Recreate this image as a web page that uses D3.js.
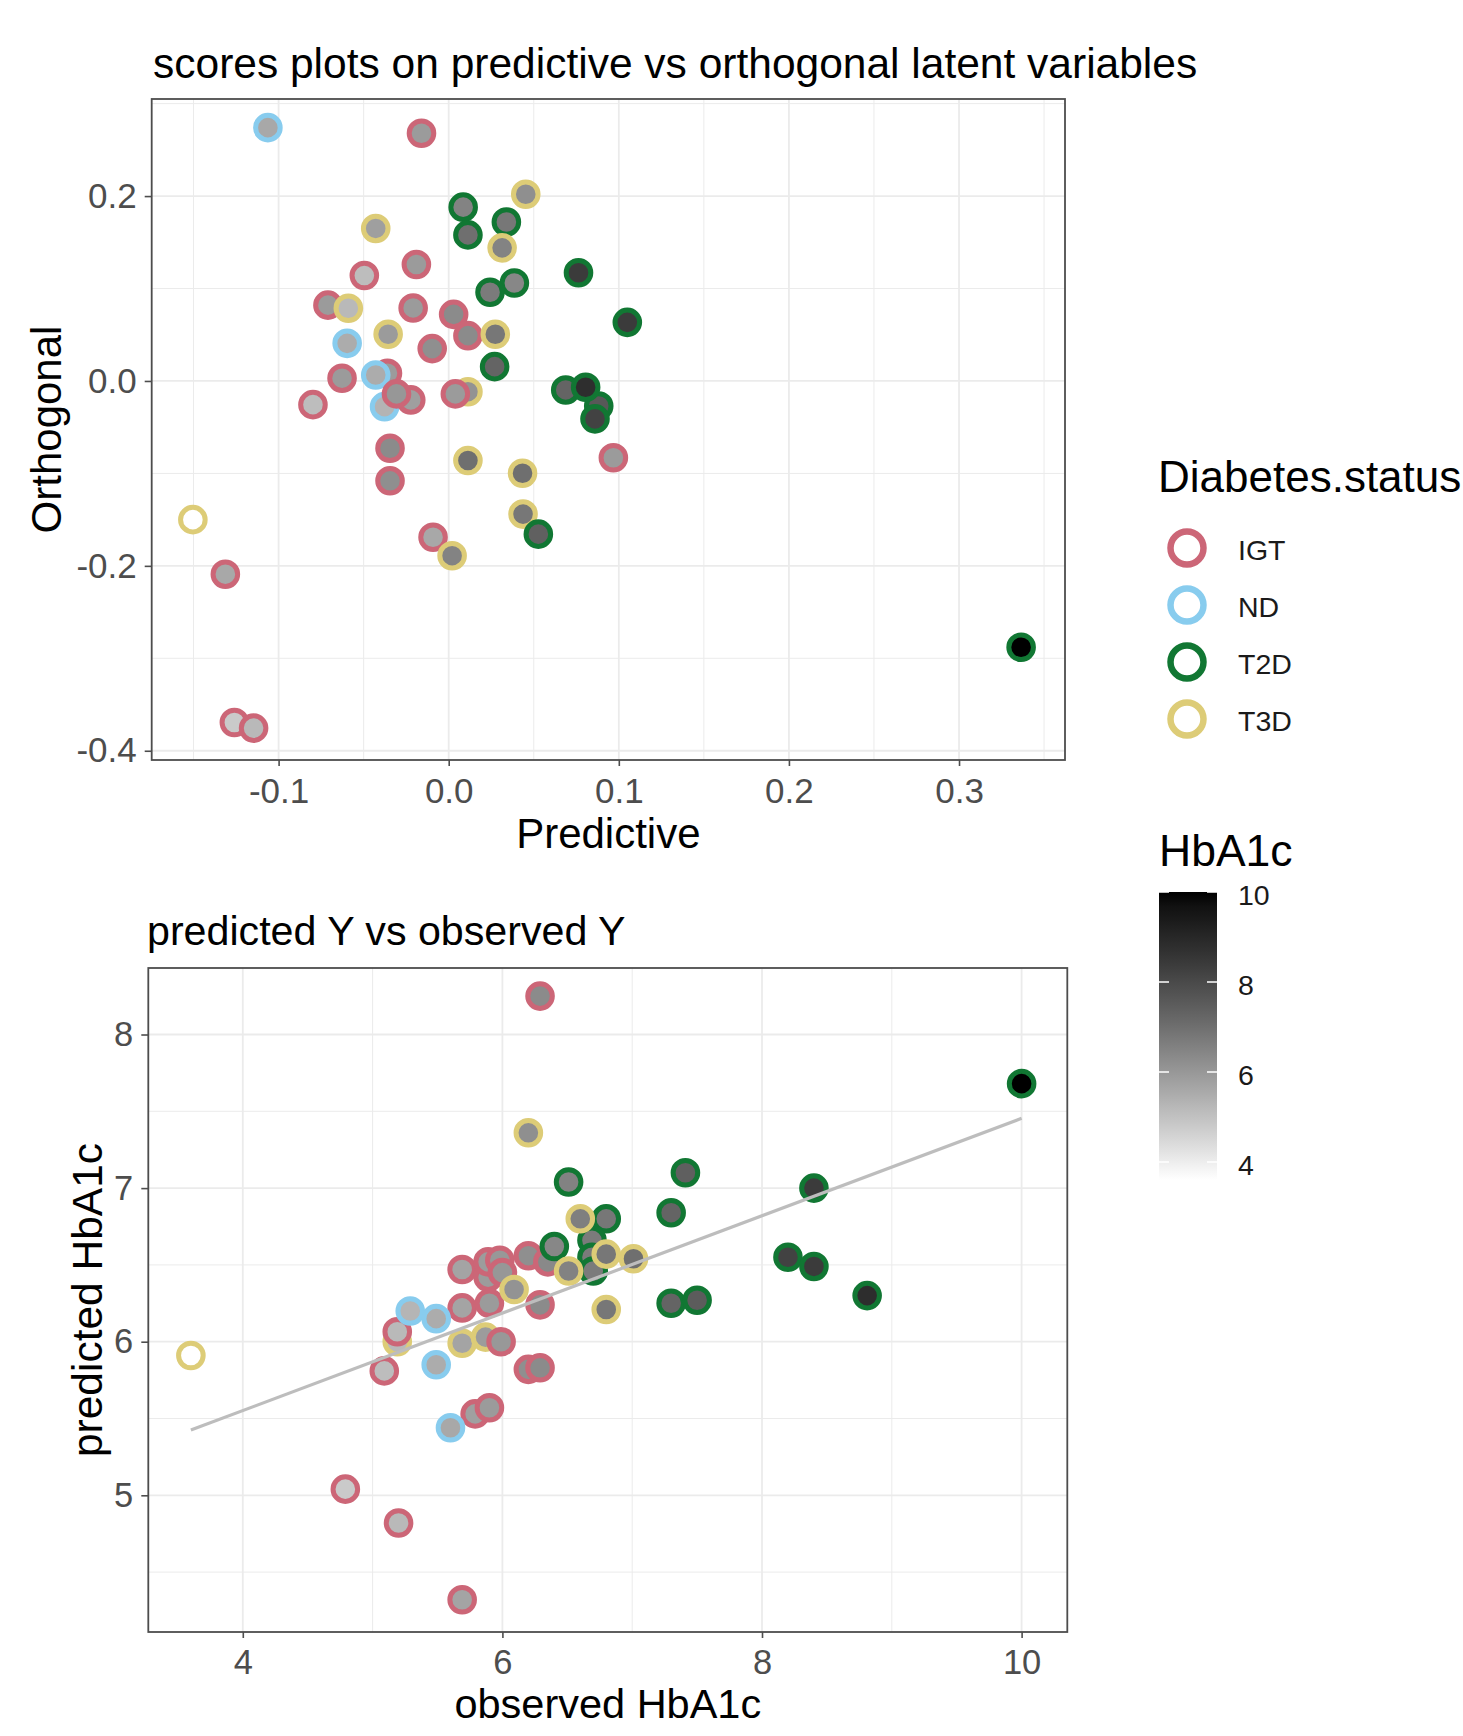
<!DOCTYPE html>
<html><head><meta charset="utf-8">
<script src="https://cdn.jsdelivr.net/npm/d3@7"></script>
<style>
body{margin:0;background:#fff}
svg text{font-family:"Liberation Sans",Arial,sans-serif}
</style>
</head><body>
<svg id="chart" width="1463" height="1736"></svg>
<script>
// ---------- shared ----------
const statusLevels = ["IGT","ND","T2D","T3D"];
const statusColors = ["#CC6677","#88CCEE","#117733","#DDCC77"];
const hba1cRange = [3.6, 10];
const hba1cTicks = [4, 6, 8, 10];

// ---------- top panel: scores ----------
const scoreStatus = ["ND","IGT","T3D","T2D","T2D","T2D","T3D","T3D","IGT","IGT","T2D","T2D","IGT","T3D","IGT","IGT","IGT","T3D","T3D","ND","IGT","T2D","IGT","ND","IGT","IGT","ND","IGT","IGT","T3D","IGT","IGT","T3D","IGT","T3D","T2D","T2D","T2D","T2D","T2D","T2D","IGT","T3D","T2D","T3D","IGT","IGT","T3D","IGT","IGT","T2D"];
const scorePredictive = [-0.1063,-0.016,0.0453,0.0085,0.0339,0.0113,0.0314,-0.0429,-0.019,-0.0496,0.0386,0.0243,-0.071,-0.059,-0.0209,0.0029,0.0113,0.0274,-0.0356,-0.0597,-0.0097,0.027,-0.036,-0.0429,-0.0627,-0.0798,-0.0377,-0.0223,-0.0307,0.0113,0.0039,-0.0345,0.0113,-0.0345,0.0434,0.0763,0.105,0.0688,0.0882,0.0805,0.086,0.0968,0.0437,0.0527,-0.1504,-0.1313,-0.0092,0.002,-0.126,-0.1147,0.3365];
const scoreOrthogonal = [0.274,0.268,0.202,0.188,0.172,0.158,0.144,0.165,0.126,0.114,0.106,0.096,0.082,0.0786,0.079,0.072,0.049,0.0505,0.0505,0.0407,0.035,0.0155,0.0083,0.0065,0.003,-0.0256,-0.0278,-0.0205,-0.014,-0.0116,-0.014,-0.0728,-0.086,-0.108,-0.0998,0.117,0.0634,-0.0097,-0.027,-0.0068,-0.041,-0.083,-0.144,-0.1657,-0.150,-0.209,-0.169,-0.189,-0.3694,-0.3755,-0.288];
const scoreHbA1c = [5.6,5.9,6.2,6.5,6.8,7.0,6.5,5.8,5.9,5.1,6.4,6.7,5.9,5.2,5.9,6.3,6.3,6.8,5.9,5.5,6.2,7.3,5.9,5.5,5.9,5.1,5.3,5.8,6.0,6.1,5.9,6.3,7.0,6.2,7.0,8.4,8.4,7.3,7.6,8.8,8.2,5.9,6.8,7.4,3.6,5.6,5.6,6.5,4.8,5.2,10.0];
const topXTicks = [-0.1, 0.0, 0.1, 0.2, 0.3];
const topXMinor = [-0.15, -0.05, 0.05, 0.15, 0.25, 0.35];
const topYTicks = [-0.4, -0.2, 0.0, 0.2];
const topYMinor = [-0.3, -0.1, 0.1, 0.3];
const topXDomain = [-0.1746, 0.3623];
const topYDomain = [-0.41, 0.305];

// ---------- bottom panel: predicted vs observed ----------
const predStatus = ["T3D",
  "IGT","IGT","IGT","IGT","IGT","IGT","IGT","IGT","IGT","IGT","IGT","IGT",
  "T3D","T3D",
  "IGT","IGT","IGT","IGT","IGT","IGT","IGT","IGT","IGT",
  "ND","ND","ND","ND",
  "T3D",
  "T2D","T2D","T2D","T2D","T2D","T2D","T2D","T2D","T2D","T2D","T2D","T2D","T2D","T2D","T2D",
  "T3D","T3D","T3D","T3D","T3D","T3D","T3D"];
const predObserved = [5.19,
  6.29,5.09,5.19,5.69,5.89,5.89,5.98,6.2,6.35,6.0,5.69,5.90,
  5.69,5.87,
  6.29,5.99,6.2,6.29,5.79,5.90,4.79,5.20,5.69,
  5.29,5.49,5.49,5.60,
  3.6,
  6.51,7.41,7.30,6.80,6.40,6.69,6.69,6.70,7.30,7.50,8.20,8.40,8.40,8.81,10.0,
  6.2,6.09,6.60,6.80,7.01,6.51,6.80];
const predPredicted = [6.0,
  8.25,5.81,6.065,6.47,6.42,6.52,6.53,6.56,6.52,6.45,6.22,6.25,
  5.99,6.03,
  6.24,6.0,5.82,5.83,5.53,5.57,5.04,4.82,4.32,
  6.20,6.15,5.85,5.44,
  5.91,
  7.04,7.10,6.84,6.80,6.62,6.66,6.55,6.46,6.25,6.27,6.55,6.49,7.0,6.30,7.68,
  7.36,6.34,6.80,6.57,6.54,6.46,6.21];
const fitLineX = [3.6, 10.0];
const fitLineY = [5.425, 7.454];
const botXTicks = [4, 6, 8, 10];
const botXMinor = [5, 7, 9];
const botYTicks = [5, 6, 7, 8];
const botYMinor = [4.5, 5.5, 6.5, 7.5];
const botXDomain = [3.272, 10.352];
const botYDomain = [4.11, 8.433];
</script>
<script>
const svg = d3.select("#chart");
svg.append("rect").attr("width",1463).attr("height",1736).attr("fill","#fff");

const colorScale = d3.scaleOrdinal().domain(statusLevels).range(statusColors);
const fillScale = d3.scaleLinear().domain(hba1cRange).range(["#ffffff","#000000"]).interpolate(d3.interpolateLab);
const fmt1 = d => d.toFixed(1);
const GRID = "#ebebeb", BORDER = "#4d4d4d", TICKTXT = "#4d4d4d";

function panel(opts) {
  const {x, y, xTicks, xMinor, yTicks, yMinor, xFmt, yFmt, tickSize} = opts;
  const g = svg.append("g");
  const [x0, x1] = x.range(), [y0, y1] = y.range();
  g.selectAll(".vmin").data(xMinor).join("line")
    .attr("x1", d => x(d)).attr("x2", d => x(d)).attr("y1", y0).attr("y2", y1)
    .attr("stroke", GRID).attr("stroke-width", 1);
  g.selectAll(".hmin").data(yMinor).join("line")
    .attr("y1", d => y(d)).attr("y2", d => y(d)).attr("x1", x0).attr("x2", x1)
    .attr("stroke", GRID).attr("stroke-width", 1);
  g.selectAll(".vmaj").data(xTicks).join("line")
    .attr("x1", d => x(d)).attr("x2", d => x(d)).attr("y1", y0).attr("y2", y1)
    .attr("stroke", GRID).attr("stroke-width", 1.8);
  g.selectAll(".hmaj").data(yTicks).join("line")
    .attr("y1", d => y(d)).attr("y2", d => y(d)).attr("x1", x0).attr("x2", x1)
    .attr("stroke", GRID).attr("stroke-width", 1.8);
  const xa = svg.append("g").attr("transform", `translate(0,${y0})`)
    .call(d3.axisBottom(x).tickValues(xTicks).tickFormat(xFmt).tickSize(6).tickPadding(12));
  const ya = svg.append("g").attr("transform", `translate(${x0},0)`)
    .call(d3.axisLeft(y).tickValues(yTicks).tickFormat(yFmt).tickSize(7).tickPadding(8));
  [xa, ya].forEach(a => {
    a.select(".domain").remove();
    a.selectAll(".tick line").attr("stroke", BORDER).attr("stroke-width", 1.6);
    a.selectAll(".tick text").attr("fill", TICKTXT).style("font-size", tickSize + "px")
      .style("font-family", '"Liberation Sans",Arial,sans-serif');
  });
  return g;
}

function border(x, y) {
  const [x0, x1] = x.range(), [y0, y1] = y.range();
  svg.append("rect").attr("x", x0).attr("y", y1).attr("width", x1 - x0).attr("height", y0 - y1)
    .attr("fill", "none").attr("stroke", BORDER).attr("stroke-width", 1.8);
}

function drawPoints(g, xs, ys, st, fillv, x, y) {
  g.selectAll(".pt").data(d3.range(xs.length)).join("circle")
    .attr("cx", i => x(xs[i])).attr("cy", i => y(ys[i])).attr("r", 12.3)
    .attr("fill", i => fillScale(fillv[i]))
    .attr("stroke", i => colorScale(st[i])).attr("stroke-width", 5);
}

// ---------- top panel ----------
const xTop = d3.scaleLinear().domain(topXDomain).range([151.7, 1065]);
const yTop = d3.scaleLinear().domain(topYDomain).range([760, 99]);
const gTop = panel({x: xTop, y: yTop, xTicks: topXTicks, xMinor: topXMinor, yTicks: topYTicks, yMinor: topYMinor,
  xFmt: fmt1, yFmt: fmt1, tickSize: 35});
drawPoints(gTop, scorePredictive, scoreOrthogonal, scoreStatus, scoreHbA1c, xTop, yTop);
border(xTop, yTop);
svg.append("text").attr("x", 153).attr("y", 78).style("font-size", "42.5px").attr("fill", "#000")
  .text("scores plots on predictive vs orthogonal latent variables");
svg.append("text").attr("x", (151.7 + 1065) / 2).attr("y", 848).attr("text-anchor", "middle")
  .style("font-size", "42px").text("Predictive");
svg.append("text").attr("transform", `translate(61,${(99 + 760) / 2}) rotate(-90)`).attr("text-anchor", "middle")
  .style("font-size", "42px").text("Orthogonal");

// ---------- bottom panel ----------
const xBot = d3.scaleLinear().domain(botXDomain).range([148.3, 1067.3]);
const yBot = d3.scaleLinear().domain(botYDomain).range([1632, 968]);
const gBot = panel({x: xBot, y: yBot, xTicks: botXTicks, xMinor: botXMinor, yTicks: botYTicks, yMinor: botYMinor,
  xFmt: d3.format("d"), yFmt: d3.format("d"), tickSize: 34.5});
drawPoints(gBot, predObserved, predPredicted, predStatus, predObserved, xBot, yBot);
gBot.append("path")
  .datum(d3.range(fitLineX.length))
  .attr("d", d3.line().x(i => xBot(fitLineX[i])).y(i => yBot(fitLineY[i])))
  .attr("stroke", "#bdbdbd").attr("stroke-width", 3.2).attr("fill", "none");
border(xBot, yBot);
svg.append("text").attr("x", 147).attr("y", 945).style("font-size", "41.2px").text("predicted Y vs observed Y");
svg.append("text").attr("x", (148.3 + 1067.3) / 2).attr("y", 1718).attr("text-anchor", "middle")
  .style("font-size", "41.5px").text("observed HbA1c");
svg.append("text").attr("transform", `translate(102,${(968 + 1632) / 2}) rotate(-90)`).attr("text-anchor", "middle")
  .style("font-size", "42.5px").text("predicted HbA1c");

// ---------- legend: Diabetes.status ----------
const leg = svg.append("g");
leg.append("text").attr("x", 1158).attr("y", 492).style("font-size", "44px").text("Diabetes.status");
const legY = d3.scalePoint().domain(statusLevels).range([548, 719]);
leg.selectAll(".key").data(statusLevels).join("circle")
  .attr("cx", 1187).attr("cy", d => legY(d)).attr("r", 16.5)
  .attr("fill", "none").attr("stroke", d => colorScale(d)).attr("stroke-width", 6.5);
leg.selectAll(".lab").data(statusLevels).join("text")
  .attr("x", 1238).attr("y", d => legY(d) + 12).style("font-size", "28.5px").attr("fill", "#1a1a1a").text(d => d);

// ---------- colourbar: HbA1c ----------
svg.append("text").attr("x", 1159).attr("y", 866).style("font-size", "44.5px").text("HbA1c");
const cbY = d3.scaleLinear().domain(hba1cRange).range([1180, 892]);
const defs = svg.append("defs");
const grad = defs.append("linearGradient").attr("id", "cbgrad").attr("x1", 0).attr("x2", 0).attr("y1", 1).attr("y2", 0);
const stops = d3.range(0, 1.0001, 0.05);
grad.selectAll("stop").data(stops).join("stop")
  .attr("offset", d => d).attr("stop-color", d => fillScale(hba1cRange[0] + d * (hba1cRange[1] - hba1cRange[0])));
svg.append("rect").attr("x", 1159).attr("y", cbY(hba1cRange[1])).attr("width", 58)
  .attr("height", cbY(hba1cRange[0]) - cbY(hba1cRange[1])).attr("fill", "url(#cbgrad)");
const cb = svg.append("g");
cb.selectAll(".tl").data(hba1cTicks).join("line")
  .attr("x1", 1159).attr("x2", 1169).attr("y1", d => cbY(d)).attr("y2", d => cbY(d))
  .attr("stroke", "#fff").attr("stroke-width", 1.5);
cb.selectAll(".tr").data(hba1cTicks).join("line")
  .attr("x1", 1207).attr("x2", 1217).attr("y1", d => cbY(d)).attr("y2", d => cbY(d))
  .attr("stroke", "#fff").attr("stroke-width", 1.5);
cb.selectAll(".tt").data(hba1cTicks).join("text")
  .attr("x", 1238).attr("y", d => cbY(d) + 13).style("font-size", "28.5px").attr("fill", "#1a1a1a").text(d => d);
</script>
</body></html>
